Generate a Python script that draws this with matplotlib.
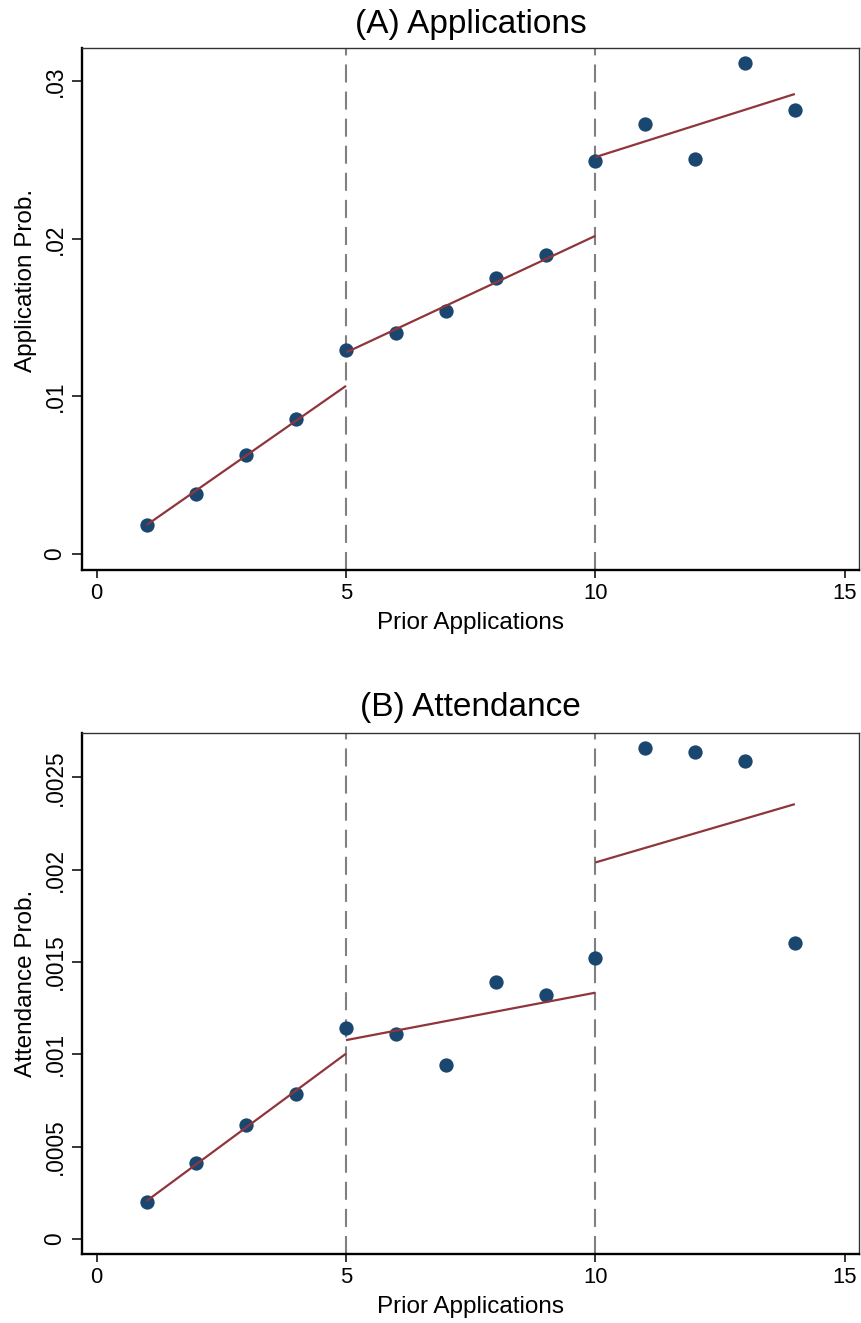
import matplotlib
matplotlib.use("Agg")
import matplotlib.pyplot as plt
import numpy as np

plt.rcParams["font.family"] = ["Liberation Sans", "DejaVu Sans"]
plt.rcParams["lines.scale_dashes"] = False

# ---- data ---------------------------------------------------------------
prior_apps = [1, 2, 3, 4, 5, 6, 7, 8, 9, 10, 11, 12, 13, 14]

app_prob = [0.00182, 0.00379, 0.00627, 0.00856, 0.01295, 0.01403, 0.01543,
            0.01753, 0.01899, 0.02492, 0.02731, 0.02504, 0.03117, 0.02816]

att_prob = [0.000202, 0.000413, 0.000616, 0.000785, 0.001142, 0.001110,
            0.000944, 0.001391, 0.001319, 0.001520, 0.002657, 0.002635,
            0.002588, 0.001601]

# piecewise linear fits: (x_start, x_end) and fitted values at each end
fit_x = [(1, 5), (5, 10), (10, 14)]
app_fit = [(0.00182, 0.01066), (0.01278, 0.02019), (0.02519, 0.02920)]
att_fit = [(0.000206, 0.001004), (0.001077, 0.001334), (0.002039, 0.002355)]

cutoffs = [5, 10]

x_ticks = [0, 5, 10, 15]
app_yticks = [0, 0.01, 0.02, 0.03]
app_ylabels = ["0", ".01", ".02", ".03"]
att_yticks = [0, 0.0005, 0.001, 0.0015, 0.002, 0.0025]
att_ylabels = ["0", ".0005", ".001", ".0015", ".002", ".0025"]

# ---- styling ------------------------------------------------------------
DOT = "#1a476f"
FIT = "#90353b"
VLINE = "#808080"

fig = plt.figure(figsize=(8.62, 13.23), dpi=100)
axA = fig.add_axes([0.09513, 0.56916, 0.90139, 0.39456])
axB = fig.add_axes([0.09513, 0.05215, 0.90139, 0.39380])


def draw_panel(ax, y, fits, yticks, ylabels, ylim, title, ylabel, ylab_y, title_pad):
    for c in cutoffs:
        ax.axvline(c, color=VLINE, lw=1.5, dashes=[13, 6.5], zorder=1)
    ax.plot(prior_apps, y, "o", ms=10.3, color=DOT, mec="none", zorder=3)
    for (x0, x1), (y0, y1) in zip(fit_x, fits):
        ax.plot([x0, x1], [y0, y1], color=FIT, lw=1.6, zorder=4,
                solid_capstyle="butt")

    ax.set_xlim(-0.295, 15.286)
    ax.set_ylim(*ylim)
    ax.set_xticks(x_ticks)
    ax.set_xticklabels([str(t) for t in x_ticks])
    ax.set_yticks(yticks)
    ax.set_yticklabels(ylabels)

    ax.tick_params(axis="x", length=6, width=1.1, pad=3.4, labelsize=15.8,
                   color="black")
    ax.tick_params(axis="y", length=7, width=1.1, pad=4.2, labelsize=16.3,
                   labelrotation=90, color="black")
    for lab in ax.get_yticklabels():
        lab.set_va("center")

    for side in ("left", "bottom"):
        ax.spines[side].set_linewidth(1.7)
        ax.spines[side].set_color("black")
    for side in ("top", "right"):
        ax.spines[side].set_linewidth(1.0)
        ax.spines[side].set_color("#333333")

    ax.set_title(title, fontsize=24, pad=title_pad)
    ax.set_xlabel("Prior Applications", fontsize=17.5, va="top")
    ax.xaxis.set_label_coords(0.5, -0.080)
    ax.set_ylabel(ylabel, fontsize=17.5, va="center")
    ax.yaxis.set_label_coords(-0.0715, ylab_y)


draw_panel(axA, app_prob, app_fit, app_yticks, app_ylabels,
           (-0.001036, 0.03212), "(A) Applications", "Application Prob.",
           0.554, 10.8)
draw_panel(axB, att_prob, att_fit, att_yticks, att_ylabels,
           (-0.0000812, 0.002740), "(B) Attendance", "Attendance Prob.",
           0.52, 12.0)

fig.savefig("out.png", dpi=100, facecolor="white")
